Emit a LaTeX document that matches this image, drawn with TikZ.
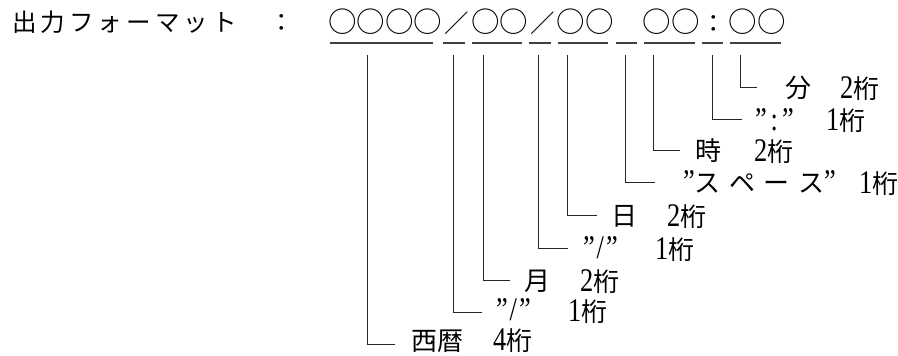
\documentclass[tikz,border=0pt]{standalone}
\usepackage{fontspec}
\setmainfont{Liberation Serif}
\newfontfamily\jp{Noto Sans CJK JP}
\newfontfamily\dgf{Liberation Serif}[FakeStretch=0.8]
\newcommand\dg{\dgf\fontsize{33pt}{35pt}\selectfont}
\newcommand\jpt{\jp\fontsize{26pt}{28pt}\selectfont}
\newcommand\jtitle{\jp\fontsize{24.5pt}{26pt}\selectfont}
\newcommand\fb[1]{\makebox[28.6pt][c]{#1}}
\newcommand\cir{\fb{{\fontsize{28.5pt}{30pt}\selectfont ○}}}
\tikzset{
  lbl/.style={anchor=base west, inner sep=0pt, outer sep=0pt, font=\jpt},
  ttl/.style={anchor=base west, inner sep=0pt, outer sep=0pt, font=\jtitle},
  conn/.style={draw=black!85, line width=0.8pt},
  uline/.style={draw=black!75, line width=1.1pt},
}
\begin{document}
\begin{tikzpicture}[x=1pt,y=-1pt]
\useasboundingbox (0,0) rectangle (898,356);
% title and format string
\node[ttl] (title) at (10,31) {\fb{出}\fb{力}\fb{フ}\fb{ォ}\fb{ー}\fb{マ}\fb{ッ}\fb{ト}\fb{}\fb{：}};
\node[ttl] (fmt) at (328,32.5) {\cir\cir\cir\cir\fb{／}\cir\cir\fb{／}\cir\cir\fb{}\cir\cir\fb{：}\cir\cir};
% underlines
\foreach \a/\b in {330/433, 443/465, 472/522, 529/551, 558/608, 616/637, 644/695, 702/723, 730/781}
  \draw[uline] (\a,43) -- (\b,43);
% tops of connectors
\foreach \n/\x in {t1/367, t2/453, t3/483, t4/538, t5/567, t6/625, t7/653, t8/712, t9/740}
  \coordinate (\n) at (\x,55);
% label ends
\coordinate (e9) at (757,87);
\coordinate (e8) at (742,119);
\coordinate (e7) at (680,150);
\coordinate (e6) at (655,182);
\coordinate (e5) at (597,215);
\coordinate (e4) at (568,248);
\coordinate (e3) at (510,280);
\coordinate (e2) at (482,312);
\coordinate (e1) at (395,344);
% labels
\node[lbl] (w9) at (785.5,97) {分};
\node[lbl] (c9) at (840,98) {{\dg 2}桁};
\node[lbl] (w8) at (755,130) {{\dg ”\hspace{4pt}:\hspace{4pt}”}};
\node[lbl] (c8) at (826,130) {{\dg 1}桁};
\node[lbl] (w7) at (695.5,160) {時};
\node[lbl] (c7) at (754,161) {{\dg 2}桁};
\node[lbl] (w6) at (683,192) {{\dg ”}ス\hspace{8.5pt}ペ\hspace{8.5pt}ー\hspace{8.5pt}ス{\dg ”}};
\node[lbl] (c6) at (859,193) {{\dg 1}桁};
\node[lbl] (w5) at (611,225) {日};
\node[lbl] (c5) at (667,226) {{\dg 2}桁};
\node[lbl] (w4) at (583,258) {{\dg ”\hspace{2pt}/\hspace{2pt}”}};
\node[lbl] (c4) at (655,259) {{\dg 1}桁};
\node[lbl] (w3) at (524,290) {月};
\node[lbl] (c3) at (580,291) {{\dg 2}桁};
\node[lbl] (w2) at (496,320.5) {{\dg ”\hspace{2pt}/\hspace{2pt}”}};
\node[lbl] (c2) at (568,321) {{\dg 1}桁};
\node[lbl] (w1) at (411,350.5) {西暦};
\node[lbl] (c1) at (493,350.5) {{\dg 4}桁};
% connectors
\foreach \i in {1,...,9}
  \draw[conn] (t\i) |- (e\i);
\end{tikzpicture}
\end{document}
